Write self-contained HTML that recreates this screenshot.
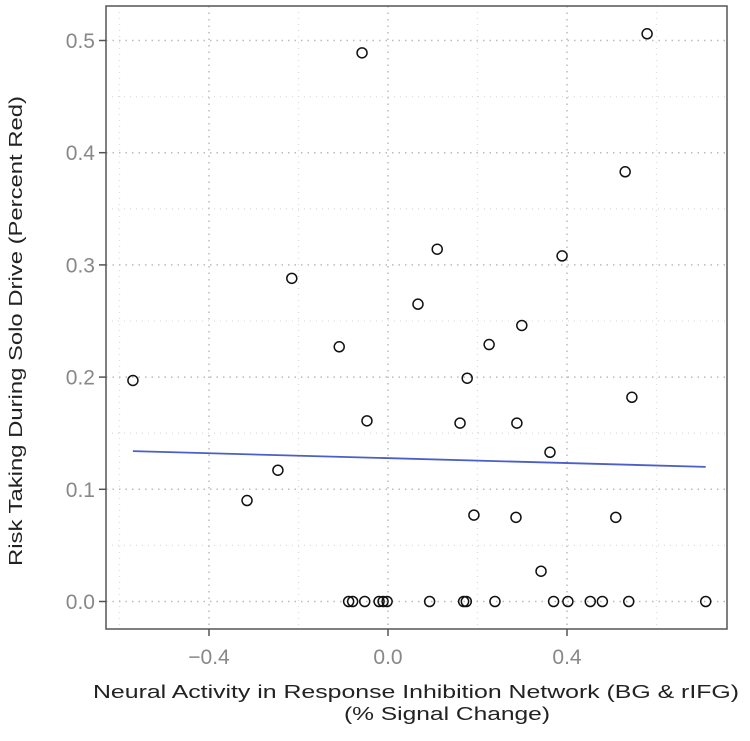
<!DOCTYPE html>
<html><head><meta charset="utf-8"><style>
body{margin:0;background:#fff;}
svg{display:block;font-family:"Liberation Sans",sans-serif;}
</style></head><body>
<svg width="750" height="741" id="chart">
<text x="22" y="331" transform="rotate(-90 22 331)" text-anchor="middle" font-size="18" textLength="470" lengthAdjust="spacingAndGlyphs" fill="#222">Risk Taking During Solo Drive (Percent Red)</text>
<text x="416" y="698" text-anchor="middle" font-size="18" textLength="646" lengthAdjust="spacingAndGlyphs" fill="#222">Neural Activity in Response Inhibition Network (BG &amp; rIFG)</text>
<text x="447" y="720" text-anchor="middle" font-size="18" textLength="206" lengthAdjust="spacingAndGlyphs" fill="#222">(% Signal Change)</text>
</svg>
<script>
const xTicks=[-0.4,0.0,0.4];
const xTickLabels=["\u22120.4","0.0","0.4"];
const xMinor=[-0.6,-0.2,0.2,0.6];
const yTicks=[0,0.1,0.2,0.3,0.4,0.5];
const yTickLabels=["0.0","0.1","0.2","0.3","0.4","0.5"];
const yMinor=[0.05,0.15,0.25,0.35,0.45];
const xVals=[-0.570,-0.315,-0.246,-0.215,-0.109,-0.058,-0.047,0.067,0.110,0.161,0.177,0.192,0.226,0.288,0.286,0.299,0.342,0.362,0.389,0.509,0.530,0.545,0.579,
-0.088,-0.079,-0.052,-0.020,-0.011,-0.002,0.093,0.169,0.175,0.239,0.370,0.402,0.452,0.479,0.538,0.710];
const yVals=[0.197,0.090,0.117,0.288,0.227,0.489,0.161,0.265,0.314,0.159,0.199,0.077,0.229,0.159,0.075,0.246,0.027,0.133,0.308,0.075,0.383,0.182,0.506,
0,0,0,0,0,0,0,0,0,0,0,0,0,0,0,0];
const fitX=[-0.57,0.71];
const fitY=[0.134,0.120];
const L=106,R=727,T=6,B=629;
const xs=v=>388+447.5*v;
const ys=v=>601.5-1122*v;
const svg=document.getElementById('chart');
const NS='http://www.w3.org/2000/svg';
function mk(t,a){const e=document.createElementNS(NS,t);for(const k in a)e.setAttribute(k,a[k]);svg.appendChild(e);return e;}
xMinor.forEach(v=>{const e=mk('line',{x1:xs(v),x2:xs(v),y1:T,y2:B,stroke:'#ddd','stroke-dasharray':'1 5','stroke-width':1.3});

});
yMinor.forEach(v=>{const e=mk('line',{x1:L,x2:R,y1:ys(v),y2:ys(v),stroke:'#ddd','stroke-dasharray':'1 5','stroke-width':1.3});

});
xTicks.forEach((v,i)=>{const e=mk('line',{x1:xs(v),x2:xs(v),y1:T,y2:B,stroke:'#bbb','stroke-dasharray':'1.5 5','stroke-width':1.5});


const t=mk('line',{x1:xs(v),x2:xs(v),y1:B,y2:B+7,stroke:'#555','stroke-width':1.5});


const l=mk('text',{x:xs(v),y:B+35,'text-anchor':'middle','font-size':21,fill:'#888'});l.textContent=xTickLabels[i];

});
yTicks.forEach((v,i)=>{const e=mk('line',{x1:L,x2:R,y1:ys(v),y2:ys(v),stroke:'#bbb','stroke-dasharray':'1.5 5','stroke-width':1.5});


const t=mk('line',{x1:L-7,x2:L,y1:ys(v),y2:ys(v),stroke:'#555','stroke-width':1.5});


const l=mk('text',{x:L-11,y:ys(v)+7.5,'text-anchor':'end','font-size':21,fill:'#888'});l.textContent=yTickLabels[i];

});
const box=mk('rect',{x:L,y:T,width:R-L,height:B-T,fill:'none',stroke:'#555','stroke-width':1.5});


const fl=mk('line',{x1:xs(fitX[0]),y1:ys(fitY[0]),x2:xs(fitX[1]),y2:ys(fitY[1]),stroke:'#4a5fc8','stroke-width':1.8});


xVals.forEach((v,i)=>{const c=mk('circle',{cx:xs(v),cy:ys(yVals[i]),r:5,fill:'none',stroke:'#111','stroke-width':1.5});

});
</script>
</body></html>
